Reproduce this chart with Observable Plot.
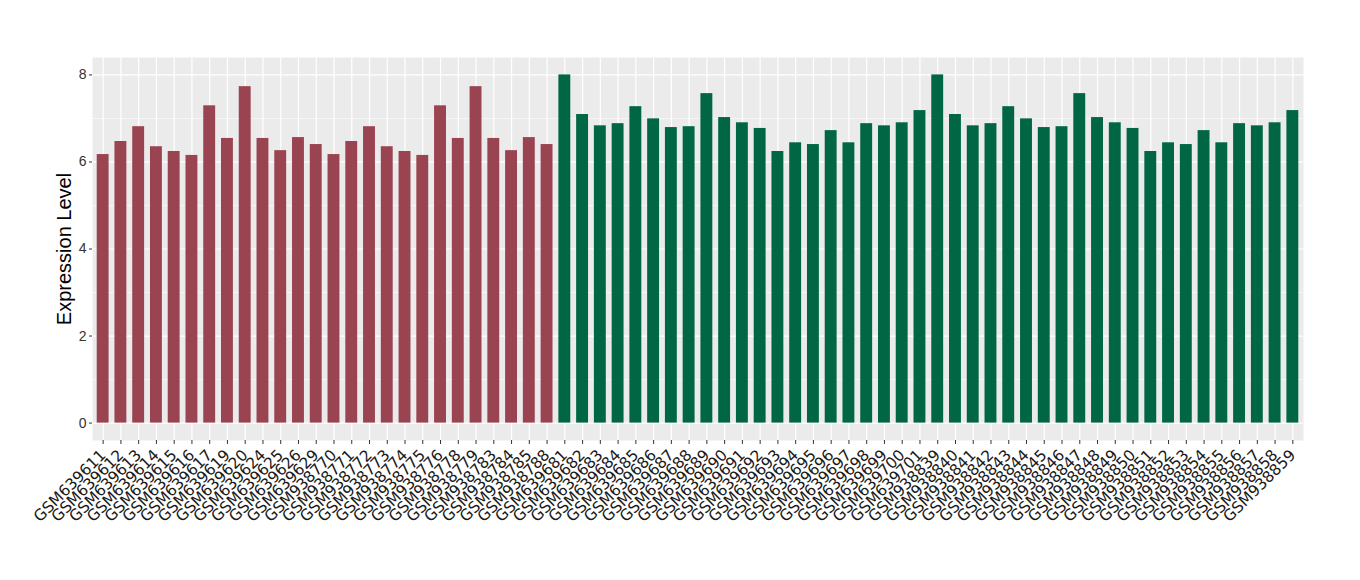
<!DOCTYPE html>
<html>
<head>
<meta charset="utf-8">
<script src="https://cdn.jsdelivr.net/npm/d3@7"></script>
<script src="https://cdn.jsdelivr.net/npm/@observablehq/plot@0.6"></script>
<style>
  html, body { margin: 0; padding: 0; background: white; }
  .xax text { font-family: 'DejaVu Sans', sans-serif; }
</style>
</head>
<body>
<div id="chart"></div>
<script>
const samples = [
  "GSM639611","GSM639612","GSM639613","GSM639614","GSM639615","GSM639616","GSM639617","GSM639619","GSM639620","GSM639624","GSM639625","GSM639626","GSM639629",
  "GSM938770","GSM938771","GSM938772","GSM938773","GSM938774","GSM938775","GSM938776","GSM938778","GSM938779","GSM938783","GSM938784","GSM938785","GSM938788",
  "GSM639681","GSM639682","GSM639683","GSM639684","GSM639685","GSM639686","GSM639687","GSM639688","GSM639689","GSM639690","GSM639691","GSM639692","GSM639693","GSM639694","GSM639695","GSM639696","GSM639697","GSM639698","GSM639699","GSM639700","GSM639701",
  "GSM938839","GSM938840","GSM938841","GSM938842","GSM938843","GSM938844","GSM938845","GSM938846","GSM938847","GSM938848","GSM938849","GSM938850","GSM938851","GSM938852","GSM938853","GSM938854","GSM938855","GSM938856","GSM938857","GSM938858","GSM938859"
];
const values = [
  6.17,6.47,6.81,6.35,6.24,6.15,7.29,6.54,7.73,6.54,6.26,6.56,6.40,
  6.17,6.47,6.81,6.35,6.24,6.15,7.29,6.54,7.73,6.54,6.26,6.56,6.40,
  8.00,7.09,6.83,6.88,7.27,6.99,6.79,6.81,7.57,7.02,6.90,6.77,6.24,6.44,6.40,6.72,6.44,6.88,6.83,6.90,7.18,
  8.00,7.09,6.83,6.88,7.27,6.99,6.79,6.81,7.57,7.02,6.90,6.77,6.24,6.44,6.40,6.72,6.44,6.88,6.83,6.90,7.18
];
const groups = samples.map((s, i) => i < 26 ? "A" : "B");
const groupNames = ["A", "B"];
const groupColors = ["#994450", "#006644"];
const yTicks = [0, 2, 4, 6, 8];
const yMinor = [1, 3, 5, 7];

const data = samples.map((s, i) => ({sample: s, value: values[i], group: groups[i]}));

const chart = Plot.plot({
  width: 1360,
  height: 580,
  marginLeft: 92,
  marginRight: 57,
  marginTop: 57,
  marginBottom: 140,
  style: {background: "white", fontFamily: "'Liberation Sans', Arial, sans-serif", color: "#333"},
  x: {domain: samples, paddingInner: 0.33, paddingOuter: 0.265, label: null},
  y: {domain: [-0.4, 8.4], label: null},
  color: {domain: groupNames, range: groupColors},
  marks: [
    Plot.frame({fill: "#EBEBEB", stroke: null}),
    Plot.gridY(yMinor, {stroke: "white", strokeOpacity: 1, strokeWidth: 0.6}),
    Plot.gridY(yTicks, {stroke: "white", strokeOpacity: 1, strokeWidth: 1.2}),
    Plot.gridX({stroke: "white", strokeOpacity: 1, strokeWidth: 1.2}),
    Plot.barY(data, {x: "sample", y1: 0, y2: "value", fill: "group"}),
    Plot.axisY(yTicks, {tickSize: 3, tickPadding: 3, fontSize: 14, label: null, stroke: "#333", fill: "#333"}),
    Plot.axisY({ticks: [], tickSize: 0, label: "Expression Level", labelAnchor: "center", labelArrow: "none", labelOffset: 36, fontSize: 20, fill: "black"}),
    Plot.axisX({tickRotate: -45, tickSize: 4, tickPadding: 8, fontSize: 15.5, label: null, stroke: "#333", fill: "#1a1a1a", className: "xax"})
  ]
});
document.getElementById("chart").appendChild(chart);
</script>
</body>
</html>
